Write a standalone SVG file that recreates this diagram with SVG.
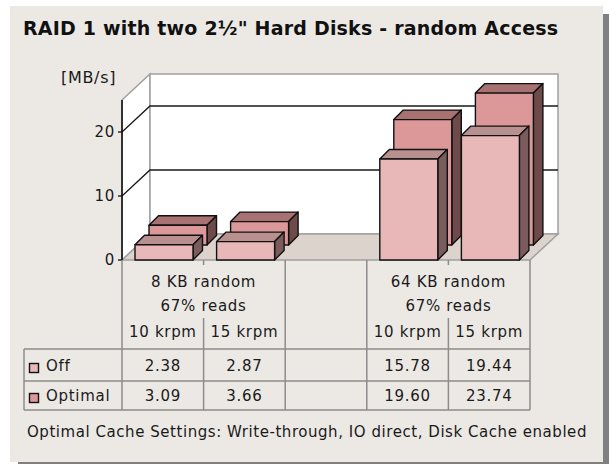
<svg xmlns="http://www.w3.org/2000/svg" width="609" height="464" viewBox="0 0 609 464">
  <style>
    .txt { font-family: "DejaVu Sans", "Liberation Sans", sans-serif; font-size: 15px; letter-spacing: 0.7px; fill: #1a1a1a; }
    .note { letter-spacing: 0.55px; }
    .mid { text-anchor: middle; }
    .end { text-anchor: end; }
    .title { font-family: "DejaVu Sans", "Liberation Sans", sans-serif; font-size: 19px; font-weight: bold; letter-spacing: 0.2px; fill: #111; }
    .wall { fill: #ffffff; stroke: #a0a0a0; stroke-width: 1.5; }
    .grid { stroke: #1a1a1a; stroke-width: 1.3; fill: none; }
    .tbl { stroke: #8c8c8c; stroke-width: 1.5; fill: none; }
    .bar { stroke: #111; stroke-width: 1.4; stroke-linejoin: round; }
    .off-front { fill: #e8b8b8; }
    .off-top { fill: #b89090; }
    .off-side { fill: #7a5c5c; }
    .opt-front { fill: #dc9898; }
    .opt-top { fill: #a87272; }
    .opt-side { fill: #6e4a4a; }
  </style>

  <!-- panel with drop shadow -->
  <rect x="18" y="14" width="591" height="450" fill="#808080"/>
  <rect x="10" y="6" width="593" height="456" fill="#ece9e5"/>

  <text class="title" x="23" y="35">RAID 1 with two 2½" Hard Disks - random Access</text>
  <text class="txt" x="61" y="83" style="font-size:16px">[MB/s]</text>

  <!-- chart walls and floor -->
  <g id="plot-area">
    <polygon class="wall" points="122,100 150,74 150,234 122,260"/>
    <rect class="wall" x="150" y="74" width="408" height="160"/>
    <polygon points="150,234 558,234 530,260 122,260" fill="#dcd4cc" stroke="#a0a0a0" stroke-width="1.5"/>
    <!-- gridlines at 10 and 20 -->
    <polyline class="grid" points="122,132 150,106 558,106"/>
    <polyline class="grid" points="122,196 150,170 558,170"/>
    <!-- value axis -->
    <line x1="122" y1="100" x2="122" y2="260" stroke="#111" stroke-width="1.6"/>
    <line x1="118" y1="132" x2="122" y2="132" stroke="#111" stroke-width="1.3"/>
    <line x1="118" y1="196" x2="122" y2="196" stroke="#111" stroke-width="1.3"/>
    <line x1="118" y1="260" x2="122" y2="260" stroke="#111" stroke-width="1.3"/>
    <text class="txt end" x="115" y="137">20</text>
    <text class="txt end" x="115" y="201">10</text>
    <text class="txt end" x="115" y="265">0</text>
  </g>

  <!-- back row: Optimal -->
  <g id="series-optimal" class="bar">
    <g id="opt-8k-10">
      <polygon class="opt-top" points="149,225.2 158.5,215.7 216.5,215.7 207,225.2"/>
      <polygon class="opt-side" points="207,225.2 216.5,215.7 216.5,235.5 207,245"/>
      <rect class="opt-front" x="149" y="225.2" width="58" height="19.8"/>
    </g>
    <g id="opt-8k-15">
      <polygon class="opt-top" points="230.6,221.6 240.1,212.1 298.1,212.1 288.6,221.6"/>
      <polygon class="opt-side" points="288.6,221.6 298.1,212.1 298.1,235.5 288.6,245"/>
      <rect class="opt-front" x="230.6" y="221.6" width="58" height="23.4"/>
    </g>
    <g id="opt-64k-10">
      <polygon class="opt-top" points="393.8,119.6 403.3,110.1 461.3,110.1 451.8,119.6"/>
      <polygon class="opt-side" points="451.8,119.6 461.3,110.1 461.3,235.5 451.8,245"/>
      <rect class="opt-front" x="393.8" y="119.6" width="58" height="125.4"/>
    </g>
    <g id="opt-64k-15">
      <polygon class="opt-top" points="475.4,93.1 484.9,83.6 542.9,83.6 533.4,93.1"/>
      <polygon class="opt-side" points="533.4,93.1 542.9,83.6 542.9,235.5 533.4,245"/>
      <rect class="opt-front" x="475.4" y="93.1" width="58" height="151.9"/>
    </g>
  </g>

  <!-- front row: Off -->
  <g id="series-off" class="bar">
    <g id="off-8k-10">
      <polygon class="off-top" points="135,244.8 144.5,235.3 202.5,235.3 193,244.8"/>
      <polygon class="off-side" points="193,244.8 202.5,235.3 202.5,250.5 193,260"/>
      <rect class="off-front" x="135" y="244.8" width="58" height="15.2"/>
    </g>
    <g id="off-8k-15">
      <polygon class="off-top" points="216.6,241.6 226.1,232.1 284.1,232.1 274.6,241.6"/>
      <polygon class="off-side" points="274.6,241.6 284.1,232.1 284.1,250.5 274.6,260"/>
      <rect class="off-front" x="216.6" y="241.6" width="58" height="18.4"/>
    </g>
    <g id="off-64k-10">
      <polygon class="off-top" points="379.8,159 389.3,149.5 447.3,149.5 437.8,159"/>
      <polygon class="off-side" points="437.8,159 447.3,149.5 447.3,250.5 437.8,260"/>
      <rect class="off-front" x="379.8" y="159" width="58" height="101"/>
    </g>
    <g id="off-64k-15">
      <polygon class="off-top" points="461.4,135.6 470.9,126.1 528.9,126.1 519.4,135.6"/>
      <polygon class="off-side" points="519.4,135.6 528.9,126.1 528.9,250.5 519.4,260"/>
      <rect class="off-front" x="461.4" y="135.6" width="58" height="124.4"/>
    </g>
  </g>

  <!-- data table -->
  <g id="data-table">
    <path class="tbl" d="M122,260 V410 M285.2,260 V410 M366.8,260 V410 M530,260 V410
                         M203.6,260 V265 M203.6,318 V410 M448.4,260 V265 M448.4,318 V410
                         M24,349 V410 M24,349 H530 M24,381 H530 M24,410 H530"/>
    <text class="txt mid" x="203.6" y="287">8 KB random</text>
    <text class="txt mid" x="203.6" y="311">67% reads</text>
    <text class="txt mid" x="162.8" y="337">10 krpm</text>
    <text class="txt mid" x="244.4" y="337">15 krpm</text>
    <text class="txt mid" x="448.4" y="287">64 KB random</text>
    <text class="txt mid" x="448.4" y="311">67% reads</text>
    <text class="txt mid" x="407.6" y="337">10 krpm</text>
    <text class="txt mid" x="489.2" y="337">15 krpm</text>

    <rect x="29.5" y="363.5" width="9" height="9" fill="#e8b8b8" stroke="#111" stroke-width="1.4"/>
    <text class="txt" x="46" y="371">Off</text>
    <rect x="29.5" y="393.5" width="9" height="9" fill="#dc9898" stroke="#111" stroke-width="1.4"/>
    <text class="txt" x="46" y="401">Optimal</text>

    <text class="txt mid" x="162.8" y="371">2.38</text>
    <text class="txt mid" x="244.4" y="371">2.87</text>
    <text class="txt mid" x="407.6" y="371">15.78</text>
    <text class="txt mid" x="489.2" y="371">19.44</text>
    <text class="txt mid" x="162.8" y="401">3.09</text>
    <text class="txt mid" x="244.4" y="401">3.66</text>
    <text class="txt mid" x="407.6" y="401">19.60</text>
    <text class="txt mid" x="489.2" y="401">23.74</text>
  </g>

  <text class="txt note" x="27" y="437">Optimal Cache Settings: Write-through, IO direct, Disk Cache enabled</text>
</svg>
